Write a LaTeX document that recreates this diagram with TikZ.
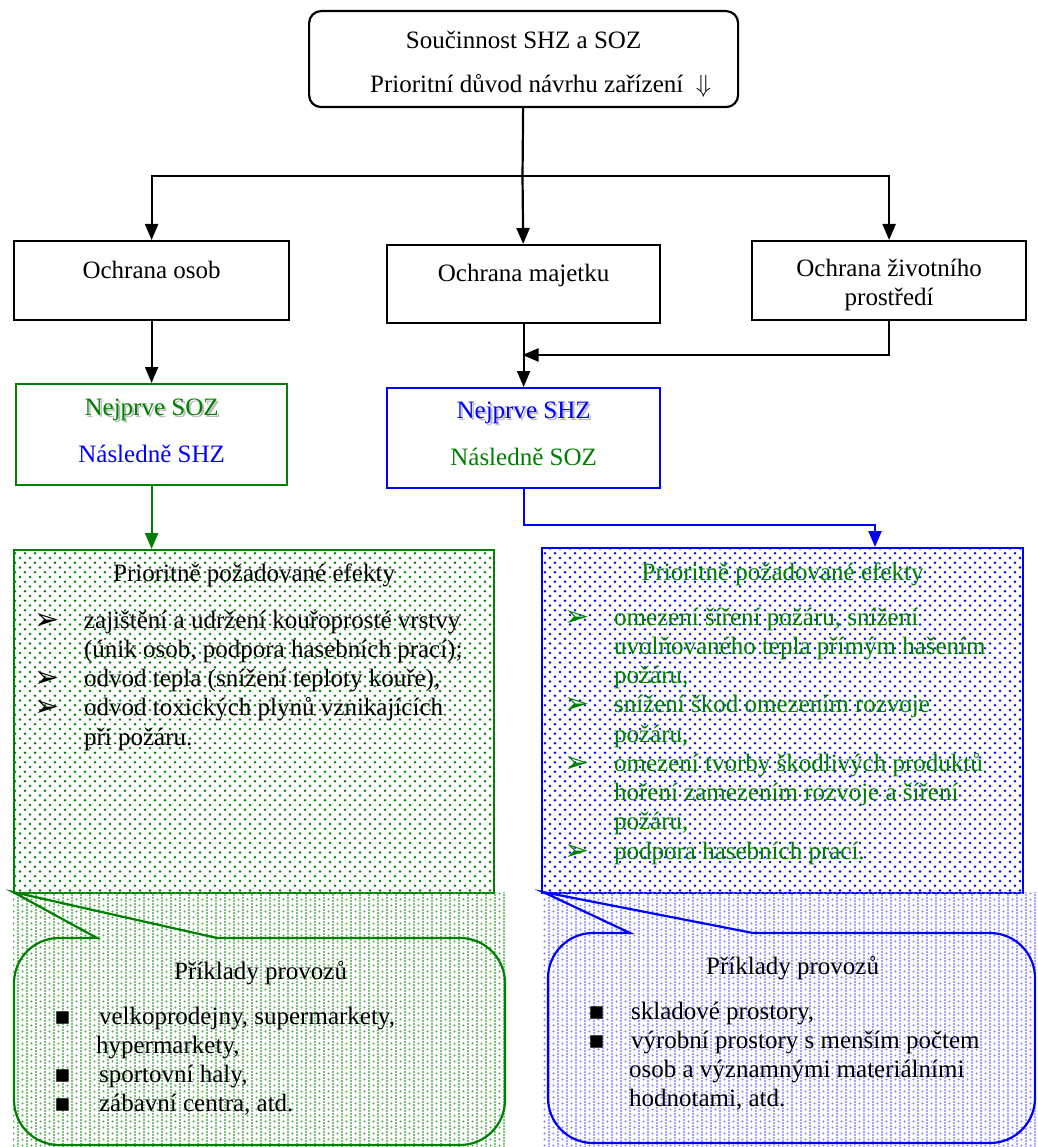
\documentclass[tikz,border=0pt]{standalone}
\usepackage{fontspec}
\setmainfont{Liberation Serif}
\newfontfamily\symfont{DejaVu Sans}
\usetikzlibrary{arrows.meta,patterns.meta}
\definecolor{ozgreen}{RGB}{0,128,0}
\definecolor{ozblue}{RGB}{0,0,255}
\tikzdeclarepattern{
	name = boxdots,
	type = uncolored,
	bottom left = {(-1.5pt,-1.5pt)},
	top right = {(8.5pt,8pt)},
	tile size = {(10pt,9.5pt)},
	code = {
		\fill (0pt,0pt) circle (1.3pt);
		\fill (5pt,4.75pt) circle (1.3pt);
	}
}
\tikzdeclarepattern{
	name = calldots,
	type = uncolored,
	bottom left = {(-1.5pt,-1.5pt)},
	top right = {(7.5pt,4.5pt)},
	tile size = {(9pt,6pt)},
	code = {
		\fill (0pt,0pt) circle (1.1pt);
		\fill (0pt,3pt) circle (1.1pt);
		\fill (4.5pt,1.5pt) circle (1.1pt);
	}
}
\newcommand{\pline}[4]{\par\noindent\hbox to \linewidth{\hspace*{#1}\rlap{#2}\hspace*{\dimexpr #3-#1\relax}#4\hss}}
\newcommand{\ptitle}[1]{\par\noindent\hbox to \linewidth{\hss #1\hss}}
\newcommand{\arrowbul}{\raisebox{-1pt}{\symfont\fontsize{30}{30}\selectfont ➢}}
\newcommand{\squarebul}{{\symfont ▪}}
\newcommand{\shadowed}[1]{\rlap{\kern2pt\raisebox{-2pt}{\textcolor{gray!55}{#1}}}#1}
\tikzset{
	box/.style = {draw, inner sep = 0pt, anchor = north west},
	dotbox/.style = {box, draw = #1, pattern = boxdots, pattern color = #1},
	calltext/.style = {inner sep = 0pt, anchor = base west}
}
\begin{document}
\begin{tikzpicture}[x = 1pt, y = -1pt, line width = 2.2pt, >={Triangle[length = 16pt, width = 13pt]}, every node/.style = {font = \fontsize{25}{29.25}\selectfont}]
\useasboundingbox (0,0) rectangle (1037,1147);
\node[box, rounded corners = 12pt, text height = 37pt, text depth = 59pt] (top) at (308,10) {\parbox[t]{429pt}{\centering Součinnost SHZ a SOZ\\[14.75pt]\hspace*{34pt}Prioritní důvod návrhu zařízení\ \ $\Downarrow$}};
\node[box, text height = 37pt, text depth = 42pt] (osob) at (13,240) {\parbox[t]{275pt}{\centering Ochrana osob}};
\node[box, text height = 36pt, text depth = 42pt] (majetek) at (386,244) {\parbox[t]{273pt}{\centering Ochrana majetku}};
\node[box, text height = 35pt, text depth = 44pt] (prostredi) at (751,240) {\parbox[t]{274pt}{\centering Ochrana životního\\prostředí}};
\node[box, draw = ozgreen, text height = 31pt, text depth = 70pt] (g1) at (15,383) {\parbox[t]{271pt}{\centering\textcolor{ozgreen}{\shadowed{Nejprve SOZ}}\\[17.75pt]\textcolor{ozblue}{Následně SHZ}}};
\node[box, draw = ozblue, text height = 30pt, text depth = 70pt] (b1) at (386,387) {\parbox[t]{273pt}{\centering\textcolor{ozblue}{\shadowed{Nejprve SHZ}}\\[17.75pt]\textcolor{ozgreen}{Následně SOZ}}};
\node[dotbox = ozgreen, text height = 31pt, text depth = 312pt] (g2) at (13,549) {\parbox[t]{480pt}{\ptitle{Prioritně požadované efekty}\par\vspace{17.75pt}%
\pline{20pt}{\arrowbul}{70pt}{zajištění a udržení kouřoprosté vrstvy}%
\pline{0pt}{}{70pt}{(únik osob, podpora hasebních prací);}%
\pline{20pt}{\arrowbul}{70pt}{odvod tepla (snížení teploty kouře),}%
\pline{20pt}{\arrowbul}{70pt}{odvod toxických plynů vznikajících}%
\pline{0pt}{}{70pt}{při požáru.}}};
\node[dotbox = ozblue, text = ozgreen, text height = 32pt, text depth = 313pt] (b2) at (541,547) {\parbox[t]{481pt}{\ptitle{Prioritně požadované efekty}\par\vspace{15.75pt}%
\pline{22pt}{\arrowbul}{72pt}{omezení šíření požáru, snížení}%
\pline{0pt}{}{72pt}{uvolňovaného tepla přímým hašením}%
\pline{0pt}{}{72pt}{požáru,}%
\pline{22pt}{\arrowbul}{72pt}{snížení škod omezením rozvoje}%
\pline{0pt}{}{72pt}{požáru,}%
\pline{22pt}{\arrowbul}{72pt}{omezení tvorby škodlivých produktů}%
\pline{0pt}{}{72pt}{hoření zamezením rozvoje a šíření}%
\pline{0pt}{}{72pt}{požáru,}%
\pline{22pt}{\arrowbul}{72pt}{podpora hasebních prací.}}};
\coordinate (bus) at (522.5,176);
\coordinate (merge) at (522.5,355);
\coordinate (bend) at (875,525);
\draw (top) -- (bus);
\draw[->] (bus) -| (osob);
\draw[->] (bus) -- (majetek);
\draw[->] (bus) -| (prostredi);
\draw[->] (osob) -- (g1);
\draw[->] (majetek) -- (b1);
\draw[->] (prostredi) |- (merge);
\draw[->, ozgreen] (g1) -- (g1 |- g2.north);
\draw[->, ozblue] (b1) |- (bend) -- (bend |- b2.north);
\fill[pattern = calldots, pattern color = ozgreen!70] (13,892) rectangle (507,1147);
\fill[pattern = calldots, pattern color = ozblue!50] (541,892) rectangle (1037,1147);
\draw[ozgreen] (217,938) -- (460,938) arc (270:360:45) -- (505,1100) arc (0:90:45) -- (59,1145) arc (90:180:45) -- (14,983) arc (180:270:45) -- (97,938) -- (13,892) -- cycle;
\draw[ozblue] (753,933) -- (990,933) arc (270:360:45) -- (1035,1098) arc (0:90:45) -- (593,1143) arc (90:180:45) -- (548,978) arc (180:270:45) -- (630,933) -- (543,892) -- cycle;
\node[calltext] (gcall) at (14,979) {\parbox[t]{491pt}{\ptitle{Příklady provozů}\par\vspace{15.75pt}%
\pline{39pt}{\squarebul}{84pt}{velkoprodejny, supermarkety,}%
\pline{0pt}{}{81pt}{hypermarkety,}%
\pline{39pt}{\squarebul}{84pt}{sportovní haly,}%
\pline{39pt}{\squarebul}{84pt}{zábavní centra, atd.}}};
\node[calltext] (bcall) at (548,974) {\parbox[t]{487pt}{\ptitle{Příklady provozů}\par\vspace{15.75pt}%
\pline{39pt}{\squarebul}{82pt}{skladové prostory,}%
\pline{39pt}{\squarebul}{82pt}{výrobní prostory s menším počtem}%
\pline{0pt}{}{80pt}{osob a významnými materiálními}%
\pline{0pt}{}{80pt}{hodnotami, atd.}}};
\end{tikzpicture}
\end{document}
